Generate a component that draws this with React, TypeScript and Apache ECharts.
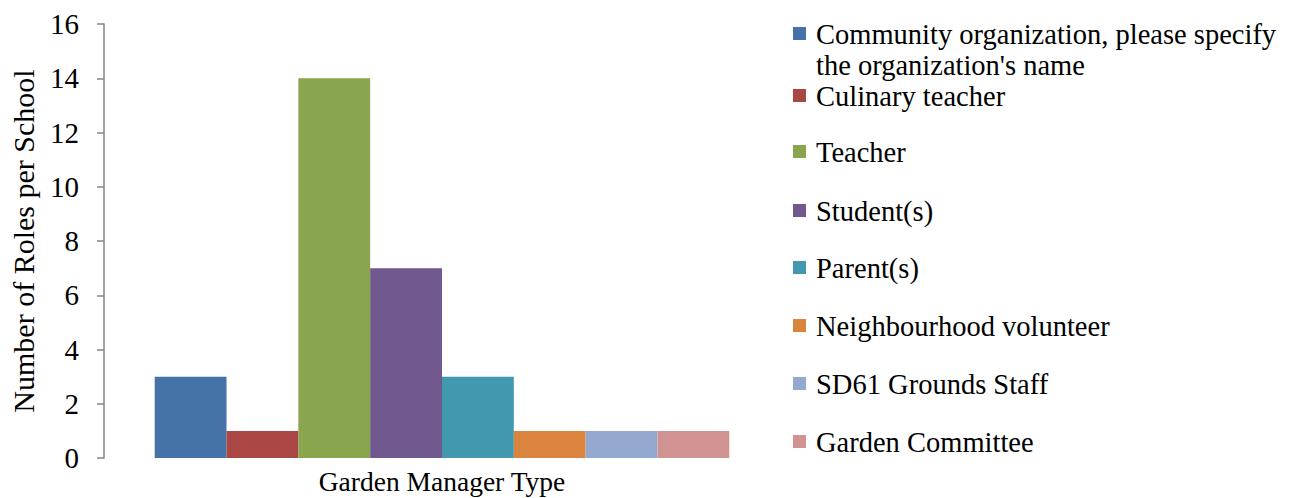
import React, { useEffect, useRef } from "react";
import * as echarts from "echarts";

const categories = ["Garden Manager Type"];
const seriesNames = [
  "Community organization, please specify the organization's name",
  "Culinary teacher",
  "Teacher",
  "Student(s)",
  "Parent(s)",
  "Neighbourhood volunteer",
  "SD61 Grounds Staff",
  "Garden Committee",
];
const legendLabels = [
  "Community organization, please specify\nthe organization's name",
  "Culinary teacher",
  "Teacher",
  "Student(s)",
  "Parent(s)",
  "Neighbourhood volunteer",
  "SD61 Grounds Staff",
  "Garden Committee",
];
const seriesValues = [3, 1, 14, 7, 3, 1, 1, 1];
const colors = ["#4572A7", "#AA4643", "#89A54E", "#71588F", "#4198AF", "#DB843D", "#93A9CF", "#D19392"];
const yTicks = { min: 0, max: 16, interval: 2 };

const FONT = "'Liberation Serif', 'Times New Roman', serif";

export default function App() {
  const ref = useRef<HTMLDivElement>(null);
  useEffect(() => {
    document.body.style.margin = "0";
    const chart = echarts.init(ref.current!, null, { renderer: "svg" });
    const legendY = [34, 96, 152, 211, 268, 326, 384, 442];
    const graphic: any[] = [];
    legendLabels.forEach((lab, i) => {
      graphic.push({
        type: "rect",
        shape: { x: 793, y: legendY[i] - 7, width: 13, height: 13 },
        style: { fill: colors[i] },
      });
      graphic.push({
        type: "text",
        x: 816,
        y: legendY[i] - 15,
        style: {
          text: lab,
          fontSize: 28.5,
          fontFamily: FONT,
          fill: "#000",
          lineHeight: 31,
          verticalAlign: "top",
        },
      });
    });
    chart.setOption({
      animation: false,
      textStyle: { fontFamily: FONT },
      grid: { left: 100, right: 511, top: 24, bottom: 40 },
      xAxis: {
        type: "category",
        data: categories,
        axisLine: { show: false },
        axisTick: { show: false },
        axisLabel: { fontSize: 27.5, color: "#000", margin: 9, fontFamily: FONT },
      },
      yAxis: {
        type: "value",
        min: yTicks.min,
        max: yTicks.max,
        interval: yTicks.interval,
        name: "Number of Roles per School",
        nameLocation: "middle",
        nameGap: 66,
        nameTextStyle: { fontSize: 30, color: "#000", fontFamily: FONT },
        axisLine: { show: true, lineStyle: { color: "#868686", width: 1.5 } },
        axisTick: { show: true, length: 7, lineStyle: { color: "#868686", width: 1.5 } },
        axisLabel: { fontSize: 29, color: "#000", margin: 25, fontFamily: FONT },
        splitLine: { show: false },
      },
      series: seriesNames.map((name, i) => ({
        name,
        type: "bar",
        data: [seriesValues[i]],
        itemStyle: { color: colors[i] },
        barGap: "0%",
        barCategoryGap: "15%",
      })),
      graphic,
    });
    return () => chart.dispose();
  }, []);
  return <div ref={ref} style={{ width: 1291, height: 498 }} />;
}
